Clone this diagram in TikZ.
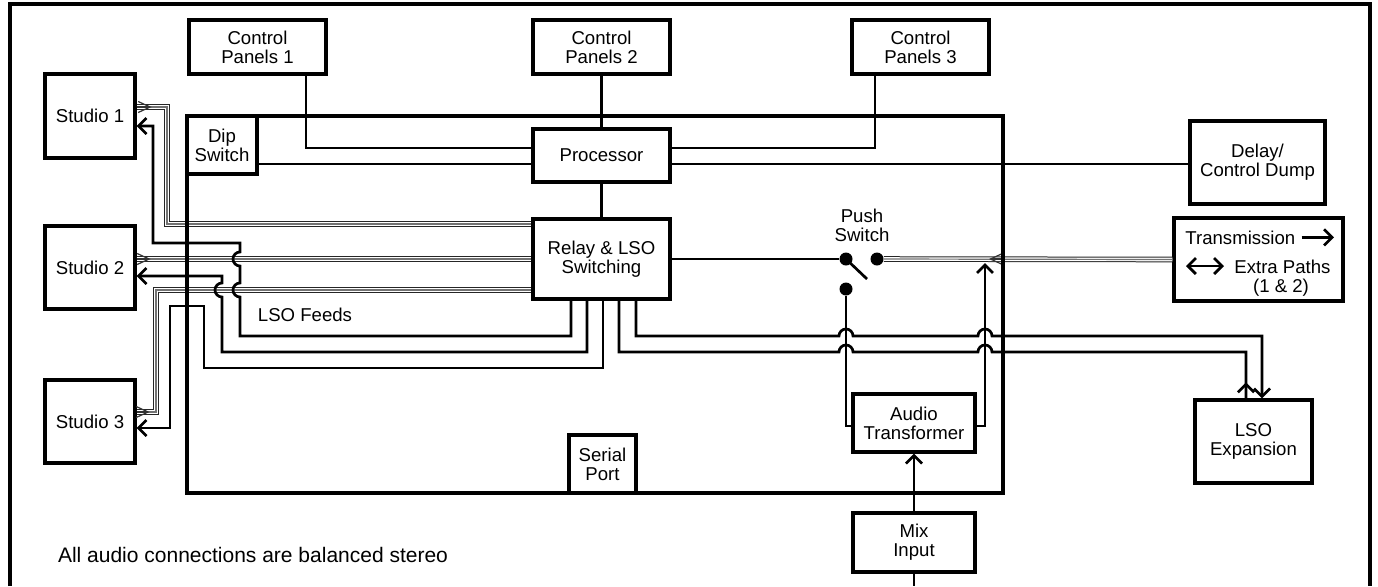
\documentclass[tikz,border=0pt]{standalone}
\usepackage{fontspec}
\setmainfont{Liberation Sans}
\usetikzlibrary{arrows.meta}
\newcommand{\boxfont}{\fontsize{9.3}{9.5}\selectfont}
\tikzset{
  box/.style={draw, line width=1.6pt, align=center, inner sep=0pt, font=\boxfont},
  wire/.style={line width=1.35pt},
  arr/.style={wire, -{Straight Barb[length=4pt, width=8pt]}},
  stereo/.style={draw=black!85, line width=2.8pt, postaction={draw=white, line width=1.8pt}, postaction={draw=black!55, line width=0.6pt}},
  chev/.style={draw=black!80, line width=0.6pt, -{Straight Barb[length=6pt, width=5.5pt]}},
  dot/.style={circle, fill, inner sep=0pt, minimum size=6.5pt},
  outline/.style={line width=1.6pt}
}
\begin{document}
\begin{tikzpicture}[x=0.5pt, y=-0.5pt]
	\useasboundingbox (0,0) rectangle (1378,586);
	\draw[outline] (10,586) -- (10,4) -- (1370,4) -- (1370,586);

	% Define nodes with their coordinates
	\node[box, minimum width=68.5pt, minimum height=27pt] (cp1) at (257.5,47) {Control\\Panels 1};
	\node[box, minimum width=68.5pt, minimum height=27pt] (cp2) at (601.5,47) {Control\\Panels 2};
	\node[box, minimum width=68.5pt, minimum height=27pt] (cp3) at (920.5,47) {Control\\Panels 3};
	\node[box, minimum width=45pt, minimum height=42pt] (s1) at (90,116) {Studio 1};
	\node[box, minimum width=45pt, minimum height=41.5pt] (s2) at (90,267.5) {Studio 2};
	\node[box, minimum width=45pt, minimum height=41.5pt] (s3) at (90,421.5) {Studio 3};
	\node[box, minimum width=68.5pt, minimum height=26.5pt] (proc) at (601.5,155.5) {Processor};
	\node[box, minimum width=68.5pt, minimum height=40pt] (relay) at (601.5,259) {Relay \& LSO\\Switching};
	\node[box, minimum width=67.5pt, minimum height=41.5pt] (delay) at (1257.5,162.5) {Delay/\\Control Dump};
	\node[box, minimum width=84.5pt, minimum height=41.5pt] (trans) at (1258.5,259.5) {};
	\node[box, minimum width=58.5pt, minimum height=41.5pt] (lso) at (1253.5,441.5) {LSO\\Expansion};
	\node[box, minimum width=61pt, minimum height=29pt] (audio) at (914,423) {Audio\\Transformer};
	\node[box, minimum width=61pt, minimum height=29.5pt] (mix) at (914,542.5) {Mix\\Input};
	\coordinate (mixout) at (914,586);

	% Switch contacts
	\node[dot] (swa) at (846,259) {};
	\node[dot] (swb) at (877,259) {};
	\node[dot] (swc) at (846,289) {};
	\node[font=\boxfont, align=center] (push) at (862,225) {Push\\Switch};

	% Stereo feeds
	\draw[stereo] (s1.east |- 0,107) -- (167,107) -- (167,224) -- (relay.west |- 0,224);
	\draw[stereo] (s2.east |- 0,259) -- (relay.west |- 0,259);
	\draw[stereo] (s3.east |- 0,412) -- (156,412) -- (156,290) -- (relay.west |- 0,290);
	\draw[stereo] (trans.west) -- (swb);
	\draw[chev] (s1.east |- 0,107) -- ++(15,0);
	\draw[chev] (s2.east |- 0,259) -- ++(14,0);
	\draw[chev] (s3.east |- 0,412) -- ++(13,0);
	\draw[chev] (1003,259) -- (989,259);

	% Main unit
	\draw[outline] (187,116) rectangle (1003,493);
	\node[box, minimum width=35pt, minimum height=29pt] (dip) at (222,145) {Dip\\Switch};
	\node[box, minimum width=33.5pt, minimum height=29pt] (serial) at (602.5,464) {Serial\\Port};

	% Draw edges
	\draw[wire] (306,0 |- cp1.south) -- (306,148) -- (proc.west |- 0,148);
	\draw[wire] (cp2) -- (proc);
	\draw[wire] (875,0 |- cp3.south) -- (875,148) -- (proc.east |- 0,148);
	\draw[wire] (dip.east |- 0,164) -- (proc.west |- 0,164);
	\draw[wire] (proc.east |- 0,164) -- (delay.west |- 0,164);
	\draw[wire] (proc) -- (relay);
	\draw[wire] (relay.east |- swa) -- (swa);
	\draw[wire] (swa.center) -- (867,279);
	\draw[wire] (swc) -- (846,426) -- (audio.west |- 0,426);
	\draw[arr] (audio.east |- 0,426) -- (985,426) -- (985,263);
	\draw[arr] (mix) -- (audio);
	\draw[wire] (mix) -- (mixout);

	% LSO feeds back to studios
	\draw[arr] (571,0 |- relay.south) -- (571,336) -- (240,336) -- (240,297)
		arc[start angle=-90, end angle=-270, radius=3.5pt] -- (240,266)
		arc[start angle=-90, end angle=-270, radius=3.5pt] -- (240,243) -- (153,243) -- (153,126) -- (s1.east |- 0,126);
	\draw[arr] (587,0 |- relay.south) -- (587,352) -- (222,352) -- (222,297)
		arc[start angle=-90, end angle=-270, radius=3.5pt] -- (222,276) -- (s2.east |- 0,276);
	\draw[arr] (603,0 |- relay.south) -- (603,368) -- (204,368) -- (204,306) -- (170,306) -- (170,428) -- (s3.east |- 0,428);

	% LSO expansion
	\draw[wire] (619,0 |- relay.south) -- (619,352) -- (839,352)
		arc[start angle=180, end angle=0, radius=3.5pt] -- (978,352)
		arc[start angle=180, end angle=0, radius=3.5pt] -- (1246,352) -- (1246,0 |- lso.north);
	\draw[arr] (1246,0 |- lso.north) -- ++(0,-16);
	\draw[arr] (636,0 |- relay.south) -- (636,336) -- (839,336)
		arc[start angle=180, end angle=0, radius=3.5pt] -- (978,336)
		arc[start angle=180, end angle=0, radius=3.5pt] -- (1262,336) -- (1262,0 |- lso.north);

	% Labels
	\node[font=\boxfont, anchor=base west, inner sep=0pt] (txlbl) at (1185,244) {Transmission};
	\draw[arr] ([xshift=3pt]txlbl.east) -- (1334,0 |- txlbl.east);
	\draw[wire, {Straight Barb[length=4pt, width=8pt]}-{Straight Barb[length=4pt, width=8pt]}] (1186,266) -- (1224,266);
	\node[font=\boxfont, anchor=base west, inner sep=0pt] (exlbl) at (1234,273) {Extra Paths};
	\node[font=\boxfont, anchor=base] (numlbl) at (1281,292) {(1 \& 2)};
	\node[font=\boxfont] (feeds) at (305,315) {LSO Feeds};
	\node[font=\fontsize{10.5}{12}\selectfont, anchor=west] (note) at (51,555) {All audio connections are balanced stereo};
\end{tikzpicture}
\end{document}
